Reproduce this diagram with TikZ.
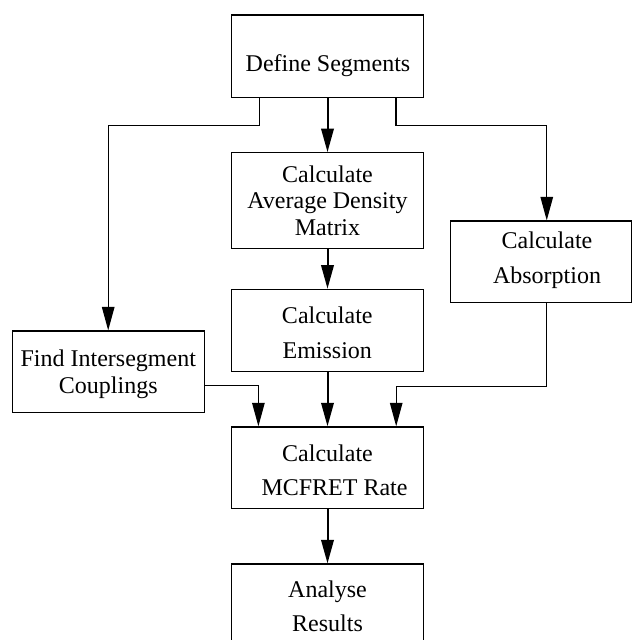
\documentclass[tikz,border=0pt]{standalone}
\usepackage{fontspec}
\setmainfont{Liberation Serif}
\usetikzlibrary{arrows.meta}
\begin{document}
\begin{tikzpicture}[x=1pt,y=-1pt,
  box/.style={draw=black, line width=1.2pt, inner sep=0pt},
  txt/.style={anchor=north, inner sep=0pt, align=center, font=\fontsize{24}{26.7}\selectfont},
  wide/.style={font=\fontsize{24}{34.4}\selectfont},
  tipstyle/.style={-{Triangle[width=12.5pt,length=23.5pt]}},
  thickarrow/.style={tipstyle, line width=2pt},
  thinarrow/.style={tipstyle, line width=1.2pt}]
\useasboundingbox (0,0) rectangle (632,640);
% boxes
\node[box, minimum width=191.6pt, minimum height=82.7pt] (def) at (327.5,56.35) {};
\node[box, minimum width=191.6pt, minimum height=95.6pt] (avg) at (327.5,200.5) {};
\node[box, minimum width=181.1pt, minimum height=81.7pt] (abs) at (540.75,261.85) {};
\node[box, minimum width=191.6pt, minimum height=82.4pt] (emi) at (327.5,330.5) {};
\node[box, minimum width=192pt, minimum height=81.7pt] (find) at (108.2,371.85) {};
\node[box, minimum width=191.6pt, minimum height=81.4pt] (mcf) at (327.5,467.6) {};
\node[box, minimum width=191.6pt, minimum height=81.5pt] (ana) at (327.5,604.75) {};
% texts
\node[txt] (defT) at (328,54.6) {Define Segments};
\node[txt] (avgT) at (327.5,165.3) {Calculate\\Average Density\\Matrix};
\node[txt, wide] (absT) at (547,231.9) {Calculate\\Absorption};
\node[txt, wide] (emiT) at (327.3,306.9) {Calculate\\Emission};
\node[txt] (findT) at (108.3,349.6) {Find Intersegment\\Couplings};
\node[txt, wide] (mcfT) at (327.5,444.6) {Calculate\\\hspace*{14pt}MCFRET Rate};
\node[txt, wide] (anaT) at (327.5,580.3) {Analyse\\Results};
% connectors
\draw[thickarrow] (def.south) -- (avg.north);
\draw[thinarrow] ([xshift=-68.2pt]def.south) -- ++(0,27.3) -| (find.north);
\draw[thinarrow] ([xshift=68.5pt]def.south) -- ++(0,27.3) -| ([xshift=6pt]abs.north);
\draw[thickarrow] (avg.south) -- (emi.north);
\draw[thickarrow] (emi.south) -- (mcf.north);
\draw[thinarrow] ([yshift=-14pt]find.east) -| ([xshift=-69.1pt]mcf.north);
\draw[thinarrow] ([xshift=6pt]abs.south) -- ++(0,83.3) -| ([xshift=68.7pt]mcf.north);
\draw[thickarrow] (mcf.south) -- (ana.north);
\end{tikzpicture}
\end{document}
